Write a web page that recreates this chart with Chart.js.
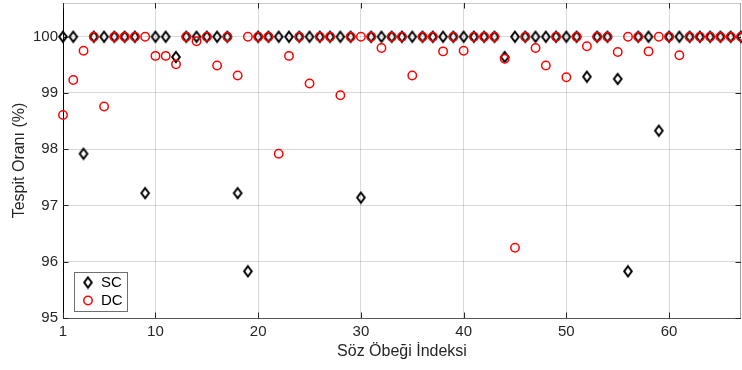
<!DOCTYPE html>
<html lang="tr">
<head>
	<meta charset="UTF-8">
	<title>Tespit Oranı</title>
	<script src="https://cdn.jsdelivr.net/npm/chart.js@4.4.0/dist/chart.umd.min.js"></script>
	<style>
		body { margin: 0; background: #ffffff; }
	</style>
</head>
<body>
	<canvas id="myChart" width="742" height="370"></canvas>
<script>
	// söz öbeği indeksleri
	const indices = [1, 2, 3, 4, 5, 6, 7, 8, 9, 10, 11, 12, 13, 14, 15, 16, 17, 18, 19, 20,
		21, 22, 23, 24, 25, 26, 27, 28, 29, 30, 31, 32, 33, 34, 35, 36, 37, 38, 39, 40,
		41, 42, 43, 44, 45, 46, 47, 48, 49, 50, 51, 52, 53, 54, 55, 56, 57, 58, 59, 60,
		61, 62, 63, 64, 65, 66, 67];
	const sc = [100, 100, 97.92, 100, 100, 100, 100, 100, 97.22, 100,
		100, 99.64, 100, 100, 100, 100, 100, 97.22, 95.83, 100,
		100, 100, 100, 100, 100, 100, 100, 100, 100, 97.14,
		100, 100, 100, 100, 100, 100, 100, 100, 100, 100,
		100, 100, 100, 99.64, 100, 100, 100, 100, 100, 100,
		100, 99.29, 100, 100, 99.25, 95.83, 100, 100, 98.33, 100,
		100, 100, 100, 100, 100, 100, 100];
	const dc = [98.61, 99.23, 99.75, 100, 98.76, 100, 100, 100, 100, 99.66,
		99.66, 99.51, 100, 99.92, 100, 99.49, 100, 99.31, 100, 100,
		100, 97.92, 99.66, 100, 99.17, 100, 100, 98.96, 100, 100,
		100, 99.8, 100, 100, 99.31, 100, 100, 99.74, 100, 99.75,
		100, 100, 100, 99.61, 96.25, 100, 99.8, 99.49, 100, 99.28,
		100, 99.83, 100, 100, 99.73, 100, 100, 99.74, 100, 100,
		99.67, 100, 100, 100, 100, 100, 100];
	const xTicks = [1, 10, 20, 30, 40, 50, 60];
	const yTicks = [95, 96, 97, 98, 99, 100];

	const fontName = "'Liberation Sans', Arial, Helvetica, sans-serif";
	const textColor = '#262626';

	// MATLAB tarzı elmas işaretçi
	function makeDiamond() {
		const c = document.createElement('canvas');
		c.width = 12;
		c.height = 14;
		const g = c.getContext('2d');
		g.strokeStyle = '#000000';
		g.lineWidth = 2;
		g.beginPath();
		g.moveTo(6, 2);
		g.lineTo(9.8, 7);
		g.lineTo(6, 12);
		g.lineTo(2.2, 7);
		g.closePath();
		g.stroke();
		return c;
	}
	const diamond = makeDiamond();

	function toPoints(vals) {
		return vals.map((v, i) => ({ x: indices[i], y: v }));
	}

	// kutu, içe dönük çentikler ve gösterge
	const framePlugin = {
		id: 'frame',
		beforeDatasetsDraw(chart) {
			const ctx = chart.ctx;
			const a = chart.chartArea;
			const xs = chart.scales.x;
			const ys = chart.scales.y;
			const tl = 5.5;
			ctx.save();
			ctx.lineWidth = 1;
			ctx.strokeStyle = '#c8c8c8';
			ctx.beginPath();
			ctx.moveTo(a.left, a.top + 0.5);
			ctx.lineTo(a.right, a.top + 0.5);
			ctx.stroke();
			ctx.strokeStyle = '#a0a0a0';
			ctx.beginPath();
			ctx.moveTo(a.right - 0.5, a.top);
			ctx.lineTo(a.right - 0.5, a.bottom);
			ctx.stroke();
			ctx.strokeStyle = '#555555';
			ctx.beginPath();
			ctx.moveTo(a.left, a.bottom + 0.5);
			ctx.lineTo(a.right, a.bottom + 0.5);
			ctx.stroke();
			ctx.strokeStyle = '#000000';
			ctx.beginPath();
			ctx.moveTo(a.left + 0.5, a.top);
			ctx.lineTo(a.left + 0.5, a.bottom + 1);
			ctx.stroke();
			ctx.strokeStyle = textColor;
			ctx.beginPath();
			xTicks.forEach(t => {
				const px = Math.round(xs.getPixelForValue(t)) + 0.5;
				ctx.moveTo(px, a.bottom);
				ctx.lineTo(px, a.bottom - tl);
				ctx.moveTo(px, a.top);
				ctx.lineTo(px, a.top + tl);
			});
			yTicks.forEach(t => {
				const py = Math.round(ys.getPixelForValue(t)) + 0.5;
				ctx.moveTo(a.left, py);
				ctx.lineTo(a.left + tl, py);
				ctx.moveTo(a.right, py);
				ctx.lineTo(a.right - tl, py);
			});
			ctx.stroke();
			ctx.restore();
		},
		afterDraw(chart) {
			const ctx = chart.ctx;
			ctx.save();
			ctx.fillStyle = '#ffffff';
			ctx.fillRect(74.5, 272.5, 53, 39);
			ctx.strokeStyle = '#707070';
			ctx.lineWidth = 1;
			ctx.strokeRect(74.5, 272.5, 53, 39);
			ctx.drawImage(diamond, 88 - 6, 282.5 - 7);
			ctx.strokeStyle = '#ff0000';
			ctx.lineWidth = 1.5;
			ctx.beginPath();
			ctx.arc(88, 300.5, 4.2, 0, Math.PI * 2);
			ctx.stroke();
			ctx.fillStyle = '#000000';
			ctx.font = '15px ' + fontName;
			ctx.textBaseline = 'middle';
			ctx.fillText('SC', 101, 283);
			ctx.fillText('DC', 101, 301);
			ctx.restore();
		}
	};

	const ctx = document.getElementById('myChart').getContext('2d');
	const myChart = new Chart(ctx, {
		type: 'scatter',
		data: {
			datasets: [
				{
					label: 'SC',
					data: toPoints(sc),
					pointStyle: diamond,
					order: 1,
					clip: false
				},
				{
					label: 'DC',
					data: toPoints(dc),
					pointStyle: 'circle',
					pointRadius: 4.2,
					borderWidth: 1.5,
					borderColor: '#ff0000',
					backgroundColor: 'rgba(0,0,0,0)',
					order: 0,
					clip: false
				}
			]
		},
		options: {
			responsive: false,
			animation: false,
			layout: { autoPadding: false, padding: { top: 3, right: 1, left: 0, bottom: 0 } },
			plugins: {
				legend: { display: false },
				tooltip: { enabled: false }
			},
			scales: {
				x: {
					type: 'linear',
					min: 1,
					max: 67,
					afterBuildTicks: s => { s.ticks = xTicks.map(v => ({ value: v })); },
					afterFit: s => {
						s.height = 52;
						s.paddingLeft = 0;
						s.paddingRight = 0;
					},
					border: { display: false },
					grid: { color: 'rgba(0,0,0,0.15)', drawTicks: false },
					ticks: { color: textColor, font: { family: fontName, size: 15 }, padding: 5, maxRotation: 0 },
					title: {
						display: true,
						text: 'Söz Öbeği İndeksi',
						color: textColor,
						font: { family: fontName, size: 16 },
						padding: { top: 0, bottom: 9 }
					}
				},
				y: {
					min: 95,
					max: 100.6,
					afterBuildTicks: s => { s.ticks = yTicks.map(v => ({ value: v })); },
					afterFit: s => {
						s.width = 63;
						s.paddingTop = 0;
						s.paddingBottom = 0;
					},
					border: { display: false },
					grid: { color: 'rgba(0,0,0,0.15)', drawTicks: false },
					ticks: { color: textColor, font: { family: fontName, size: 15 }, padding: 5 },
					title: {
						display: true,
						text: 'Tespit Oranı (%)',
						color: textColor,
						font: { family: fontName, size: 16 },
						padding: { top: 10, bottom: 0 }
					}
				}
			}
		},
		plugins: [framePlugin]
	});
</script>
</body>
</html>
